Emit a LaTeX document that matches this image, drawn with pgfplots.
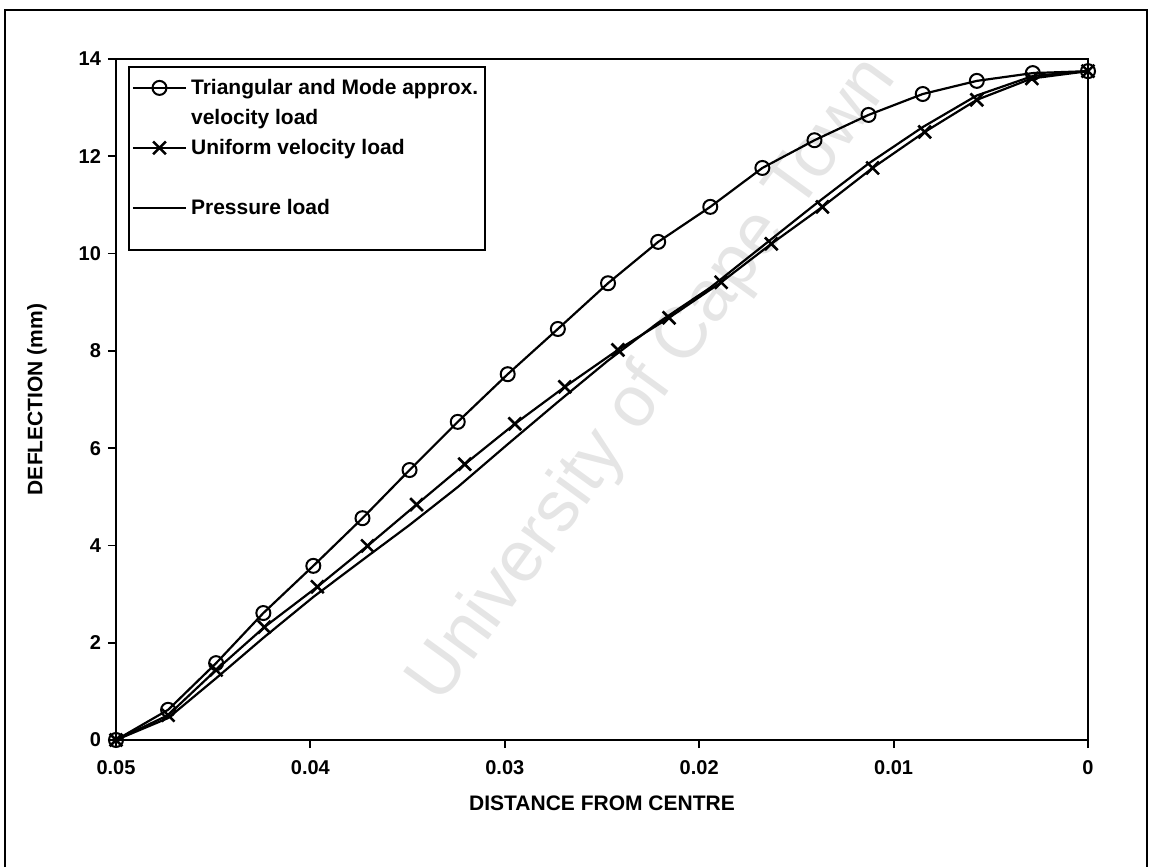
\documentclass[border=0pt]{standalone}
\usepackage{fontspec}
\setmainfont{Liberation Sans}
\usepackage{pgfplots}
\pgfplotsset{compat=1.18}
\begin{document}
\begin{tikzpicture}
\useasboundingbox (0,0) rectangle (575pt,433.5pt);
% outer frame
\draw[line width=0.9pt] (2.5pt,0) -- (2.5pt,428.5pt) -- (573.5pt,428.5pt) -- (573.5pt,0);
% watermark
\node[rotate=54, text=black!10, font=\fontsize{36}{40}\selectfont] at (327pt,243pt) {University of Cape Town};
\begin{axis}[
  at={(58pt,63.5pt)}, anchor=south west,
  width=486pt, height=340.5pt, scale only axis,
  x dir=reverse,
  xmin=0, xmax=0.05, ymin=0, ymax=14,
  scaled x ticks=false, scaled y ticks=false,
  xtick={0,0.01,0.02,0.03,0.04,0.05},
  xticklabels={0,0.01,0.02,0.03,0.04,0.05},
  ytick={0,2,4,6,8,10,12,14},
  yticklabels={0,2,4,6,8,10,12,14},
  tick align=outside, major tick length=4pt,
  tick style={line width=0.9pt, black},
  axis line style={line width=1.3pt},
  xtick pos=bottom, ytick pos=left,
  ticklabel style={font=\bfseries\fontsize{10}{12}\selectfont},
  xticklabel style={yshift=-2.5pt},
  xlabel={DISTANCE FROM CENTRE},
  ylabel={DEFLECTION (mm)},
  label style={font=\bfseries\fontsize{10.5}{12.6}\selectfont},
  xlabel style={at={(axis description cs:0.5,0)}, anchor=center, yshift=-31.5pt},
  ylabel style={at={(axis description cs:-0.0813,0.5)}, anchor=center},
  legend style={at={(axis description cs:0,1)}, anchor=north west, xshift=6pt, yshift=-3.5pt,
    draw=black, line width=0.9pt, fill=white, inner xsep=1.5pt, inner ysep=3pt, row sep=0pt,
    font=\bfseries\fontsize{10.5}{12.6}\selectfont,
    cells={anchor=west},
    nodes={inner sep=2pt, text height=9pt, text depth=2pt}},
  legend image code/.code={%
    \draw[mark repeat=2, mark phase=2, #1] plot coordinates {(0pt,0pt) (13.25pt,0pt) (26.5pt,0pt)};},
]
\addplot[black, line width=1.1pt, mark=o, mark size=3.5pt, mark options={line width=1pt, solid}] coordinates {
(0.05,0) (0.04732,0.62) (0.04485,1.58) (0.04242,2.61) (0.03985,3.58) (0.03732,4.56)
(0.0349,5.55) (0.03242,6.54) (0.02985,7.52) (0.02727,8.45) (0.02469,9.39) (0.02211,10.24)
(0.01943,10.96) (0.01675,11.76) (0.01407,12.33) (0.01129,12.85) (0.0085,13.28)
(0.00572,13.55) (0.00284,13.71) (0,13.75)};
\addlegendentry{Triangular and Mode approx.}
\addlegendimage{empty legend}
\addlegendentry{velocity load}
\addplot[black, line width=1.1pt, mark=x, mark size=4.5pt, mark options={line width=1.3pt, solid}] coordinates {
(0.05,0) (0.04732,0.51) (0.04485,1.44) (0.04237,2.32) (0.03964,3.15) (0.03706,3.99)
(0.03454,4.84) (0.03206,5.67) (0.02948,6.50) (0.02691,7.26) (0.02418,8.02) (0.02155,8.68)
(0.01887,9.41) (0.01629,10.2) (0.01366,10.96) (0.01108,11.76) (0.0084,12.5)
(0.00572,13.16) (0.00289,13.6) (0,13.75)};
\addlegendentry{Uniform velocity load}
\addlegendimage{empty legend}
\addlegendentry{}
\addplot[black, line width=1.1pt] coordinates {
(0.05,0) (0.04732,0.45) (0.04485,1.27) (0.04242,2.1) (0.03985,2.94) (0.03732,3.70)
(0.0349,4.42) (0.03242,5.2) (0.02985,6.08) (0.02727,6.95) (0.02469,7.8) (0.02211,8.58)
(0.01943,9.3) (0.01675,10.15) (0.01407,11.0) (0.01129,11.85) (0.0085,12.6)
(0.00572,13.25) (0.00284,13.65) (0,13.75)};
\addlegendentry{Pressure load}
\addlegendimage{empty legend}
\addlegendentry[text height=3pt, text depth=3.5pt]{}
\end{axis}
\end{tikzpicture}
\end{document}
